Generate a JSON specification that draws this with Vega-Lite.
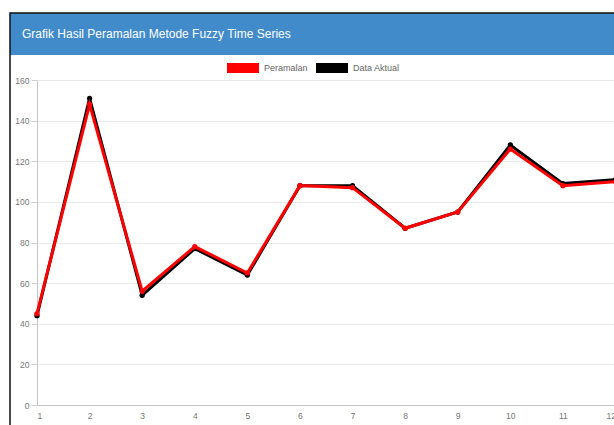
{
  "$schema": "https://vega.github.io/schema/vega-lite/v6.json",
  "width": 610,
  "height": 418,
  "autosize": {"type": "none"},
  "padding": {"left": 10, "top": 13, "right": -6, "bottom": -6},
  "background": "#ffffff",
  "title": {
    "text": "Grafik Hasil Peramalan Metode Fuzzy Time Series",
    "orient": "top",
    "frame": "group",
    "anchor": "start",
    "offset": -33,
    "dx": 12,
    "baseline": "middle",
    "color": "#ffffff",
    "font": "Liberation Sans",
    "fontSize": 12,
    "fontWeight": "normal"
  },
  "view": {
    "fill": {
      "gradient": "linear",
      "x1": 0, "y1": 0, "x2": 0, "y2": 1,
      "stops": [
        {"offset": 0, "color": "#428bca"},
        {"offset": 0.1005, "color": "#428bca"},
        {"offset": 0.1005, "color": "#ffffff"},
        {"offset": 1, "color": "#ffffff"}
      ]
    },
    "stroke": "#111111",
    "strokeWidth": 1.5
  },
  "data": {
    "values": [
      {"periode": 1, "seri": "Data Aktual", "nilai": 44},
      {"periode": 2, "seri": "Data Aktual", "nilai": 151},
      {"periode": 3, "seri": "Data Aktual", "nilai": 54},
      {"periode": 4, "seri": "Data Aktual", "nilai": 77},
      {"periode": 5, "seri": "Data Aktual", "nilai": 64},
      {"periode": 6, "seri": "Data Aktual", "nilai": 108},
      {"periode": 7, "seri": "Data Aktual", "nilai": 108},
      {"periode": 8, "seri": "Data Aktual", "nilai": 87},
      {"periode": 9, "seri": "Data Aktual", "nilai": 95},
      {"periode": 10, "seri": "Data Aktual", "nilai": 128},
      {"periode": 11, "seri": "Data Aktual", "nilai": 109},
      {"periode": 12, "seri": "Data Aktual", "nilai": 111},
      {"periode": 1, "seri": "Peramalan", "nilai": 45},
      {"periode": 2, "seri": "Peramalan", "nilai": 148},
      {"periode": 3, "seri": "Peramalan", "nilai": 56},
      {"periode": 4, "seri": "Peramalan", "nilai": 78},
      {"periode": 5, "seri": "Peramalan", "nilai": 65},
      {"periode": 6, "seri": "Peramalan", "nilai": 108},
      {"periode": 7, "seri": "Peramalan", "nilai": 107},
      {"periode": 8, "seri": "Peramalan", "nilai": 87},
      {"periode": 9, "seri": "Peramalan", "nilai": 95},
      {"periode": 10, "seri": "Peramalan", "nilai": 126},
      {"periode": 11, "seri": "Peramalan", "nilai": 108},
      {"periode": 12, "seri": "Peramalan", "nilai": 110}
    ]
  },
  "encoding": {
    "x": {
      "field": "periode",
      "type": "quantitative",
      "scale": {"domain": [1, 12], "range": [27, 605.5], "nice": false, "zero": false},
      "axis": {
        "title": null,
        "values": [1, 2, 3, 4, 5, 6, 7, 8, 9, 10, 11, 12],
        "format": "d",
        "orient": "bottom",
        "offset": -26,
        "grid": false,
        "ticks": false,
        "tickSize": 0,
        "labelPadding": 6,
        "labelFont": "Liberation Sans",
        "labelFontSize": 8.5,
        "labelColor": "#777777",
        "domainColor": "#c4c4c4",
        "domainWidth": 1
      }
    },
    "y": {
      "field": "nilai",
      "type": "quantitative",
      "scale": {"domain": [0, 160], "range": [392, 67], "nice": false, "zero": true},
      "axis": {
        "title": null,
        "values": [0, 20, 40, 60, 80, 100, 120, 140, 160],
        "orient": "left",
        "offset": -27,
        "grid": true,
        "gridColor": "#e9e9e9",
        "gridWidth": 1,
        "ticks": true,
        "tickSize": 6,
        "tickColor": "#d0d0d0",
        "labelPadding": 2,
        "labelFont": "Liberation Sans",
        "labelFontSize": 8.5,
        "labelColor": "#777777",
        "domainColor": "#c4c4c4",
        "domainWidth": 1
      }
    },
    "color": {
      "field": "seri",
      "type": "nominal",
      "scale": {"domain": ["Peramalan", "Data Aktual"], "range": ["#ff0000", "#000000"]},
      "legend": {
        "orient": "none",
        "legendX": 217,
        "legendY": 39,
        "direction": "horizontal",
        "title": null,
        "padding": 0,
        "symbolType": "M-1,-0.3125H1V0.3125H-1Z",
        "symbolSize": 1024,
        "symbolStrokeWidth": 0,
        "labelFont": "Liberation Sans",
        "labelFontSize": 9,
        "labelColor": "#666666",
        "labelOffset": 5,
        "columnPadding": 8,
        "encode": {
          "symbols": {
            "update": {
              "fill": {"scale": "color", "field": "value"},
              "fillOpacity": {"value": 1},
              "opacity": {"value": 1}
            }
          }
        }
      }
    }
  },
  "layer": [
    {
      "transform": [{"filter": "datum.seri === 'Data Aktual'"}],
      "mark": {"type": "line", "strokeWidth": 3, "point": {"filled": true, "size": 28}}
    },
    {
      "transform": [{"filter": "datum.seri === 'Peramalan'"}],
      "mark": {"type": "line", "strokeWidth": 3, "point": {"filled": true, "size": 28}}
    }
  ]
}
